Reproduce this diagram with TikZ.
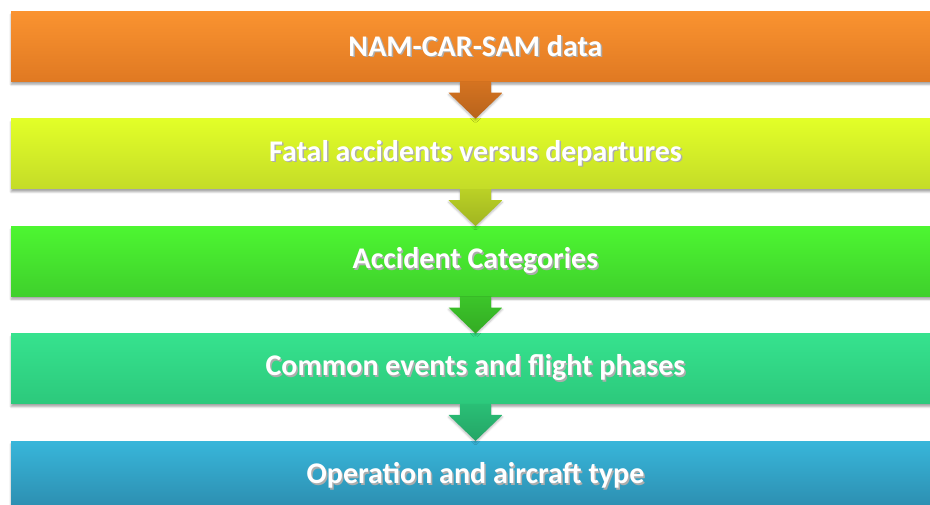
\documentclass[tikz,border=0pt]{standalone}
\usepackage{fontspec}
\setmainfont{Carlito}
\usetikzlibrary{positioning,shadows.blur}

\definecolor{orangetop}{HTML}{FA9330}
\definecolor{orangebot}{HTML}{E07922}
\definecolor{limetop}{HTML}{E2FF28}
\definecolor{limebot}{HTML}{C4DC28}
\definecolor{greentop}{HTML}{4DF631}
\definecolor{greenbot}{HTML}{3FD02C}
\definecolor{tealtop}{HTML}{36E28E}
\definecolor{tealbot}{HTML}{2CC97C}
\definecolor{bluetop}{HTML}{38B6DA}
\definecolor{bluebot}{HTML}{2C8CAE}

% white label with a soft grey shadow behind it
\newcommand{\shadowed}[1]{%
  \makebox[0pt][l]{\raisebox{-1.5pt}{\hspace{1.5pt}\textcolor{black!32}{#1}}}%
  \textcolor{white}{#1}}

\begin{document}
\begin{tikzpicture}[
        bar/.style={rectangle, minimum width=929pt, minimum height=70pt, inner sep=0pt,
            font=\fontsize{30}{34}\selectfont\bfseries,
            blur shadow={shadow xshift=0pt, shadow yshift=-3pt, shadow blur steps=6, shadow opacity=35}},
        downarrow/.style={blur shadow={shadow xshift=0pt, shadow yshift=-2pt, shadow blur steps=4, shadow opacity=25}},
        node distance=37pt,
    ]
    \useasboundingbox (0,0) rectangle (930pt,-504pt);

    \node[bar, top color=orangetop, bottom color=orangebot] (data) at (475.5pt,-46.5pt) {\shadowed{NAM-CAR-SAM data}};
    \node[bar, top color=limetop, bottom color=limebot, below=of data] (fatal) {\shadowed{Fatal accidents versus departures}};
    \node[bar, top color=greentop, bottom color=greenbot, below=of fatal] (categ) {\shadowed{Accident Categories}};
    \node[bar, top color=tealtop, bottom color=tealbot, below=of categ] (events) {\shadowed{Common events and flight phases}};
    \node[bar, top color=bluetop, bottom color=bluebot, below=of events] (oper) {\shadowed{Operation and aircraft type}};

    % block arrows between the bars
    \foreach \from/\to/\col in {data/fatal/orangebot, fatal/categ/limebot, categ/events/greenbot, events/oper/tealbot}
        \path[downarrow, top color=\col!95!black, bottom color=\col!82!black]
            (\from.south) ++(-15.5pt,0) -- ++(31pt,0) -- ++(0,-11pt) -- ++(11.5pt,0)
            -- (\to.north) -- ++(-27pt,26pt) -- ++(11.5pt,0) -- cycle;
\end{tikzpicture}
\end{document}
